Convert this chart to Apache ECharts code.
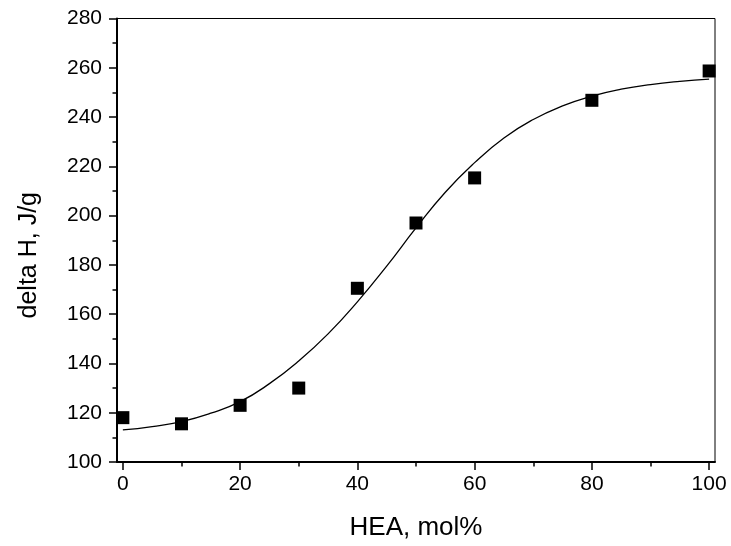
<!DOCTYPE html>
<html>
<head>
<meta charset="utf-8">
<script src="https://cdn.jsdelivr.net/npm/echarts@6/dist/echarts.min.js"></script>
<style>
html,body{margin:0;padding:0;background:#fff;}
#chart{width:731px;height:546px;}
</style>
</head>
<body>
<div id="chart"></div>
<script>
// Measured points
var heaMol = [0, 10, 20, 30, 40, 50, 60, 80, 100];
var deltaH = [118, 115.5, 123, 130, 170.5, 197, 215.3, 246.8, 258.7];
// Fitted curve
var fitX = [0, 5, 10, 15, 20, 25, 30, 35, 40, 45, 50, 55, 60, 65, 70, 75, 80, 85, 90, 95, 100];
var fitY = [113.0, 114.4, 116.4, 119.8, 124.5, 131.8, 141, 152, 165, 179.5, 195, 209.5, 221.5, 231.5, 239, 244.5, 248.5, 251.3, 253.2, 254.5, 255.4];
// Tick labels
var xMajorTicks = [0, 20, 40, 60, 80, 100];
var xMinorTicks = [10, 30, 50, 70, 90];

var pts = heaMol.map(function (x, i) { return [x, deltaH[i]]; });
var fit = fitX.map(function (x, i) { return [x, fitY[i]]; });

var font = 'Liberation Sans, Arial, sans-serif';
var chart = echarts.init(document.getElementById('chart'), null, {renderer: 'canvas'});
chart.setOption({
  animation: false,
  backgroundColor: '#fff',
  grid: {left: 117, right: 16, top: 18.5, bottom: 84, show: true, borderColor: '#000', borderWidth: 1},
  xAxis: [{
    type: 'value', min: -1, max: 101,
    name: 'HEA, mol%', nameLocation: 'middle', nameGap: 53,
    nameTextStyle: {fontFamily: font, fontSize: 26, color: '#000'},
    axisLine: {show: true, onZero: false, lineStyle: {color: '#000', width: 2}},
    axisTick: {show: true, inside: false, length: 8, customValues: xMajorTicks, lineStyle: {color: '#000', width: 1.5}},
    axisLabel: {show: true, customValues: xMajorTicks, margin: 12, fontFamily: font, fontSize: 21, color: '#000'},
    splitLine: {show: false}
  }, {
    type: 'value', min: -1, max: 101, position: 'bottom',
    axisLine: {show: false, onZero: false},
    axisTick: {show: true, inside: false, length: 4.5, customValues: xMinorTicks, lineStyle: {color: '#000', width: 1.5}},
    axisLabel: {show: false},
    splitLine: {show: false}
  }],
  yAxis: {
    type: 'value', min: 100, max: 280, interval: 20,
    name: 'delta H, J/g', nameLocation: 'middle', nameGap: 75,
    nameTextStyle: {fontFamily: font, fontSize: 25, color: '#000', padding: [0, 30, 0, 0]},
    axisLine: {show: true, onZero: false, lineStyle: {color: '#000', width: 2}},
    axisTick: {show: true, inside: false, length: 8, lineStyle: {color: '#000', width: 1.5}},
    minorTick: {show: true, splitNumber: 2, length: 4.5, lineStyle: {color: '#000', width: 1.5}},
    axisLabel: {margin: 15, fontFamily: font, fontSize: 21, color: '#000'},
    splitLine: {show: false}
  },
  series: [{
    type: 'line', data: fit, smooth: true, showSymbol: false, symbol: 'none',
    lineStyle: {color: '#000', width: 1.3}, z: 2
  }, {
    type: 'scatter', data: pts, symbol: 'rect', symbolSize: 13,
    itemStyle: {color: '#000', opacity: 1}, z: 3
  }]
});
</script>
</body>
</html>
